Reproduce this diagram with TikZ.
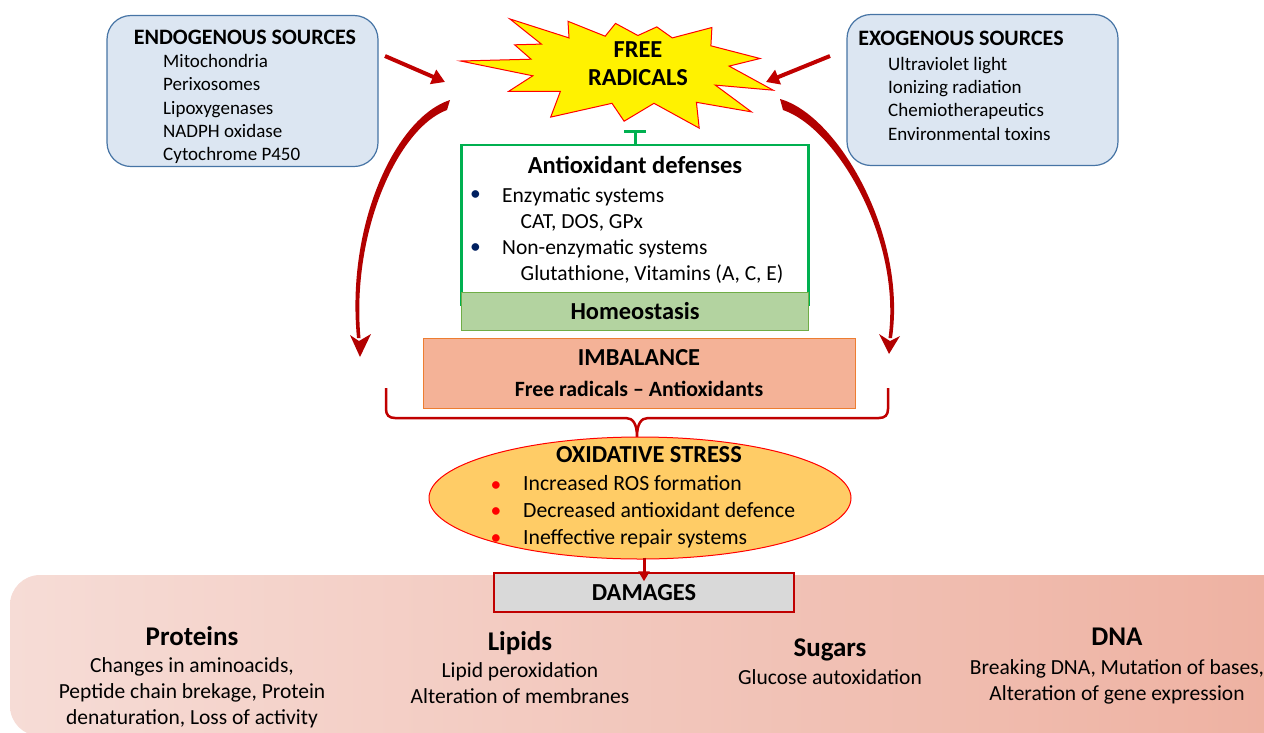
\documentclass[tikz,border=0pt]{standalone}
\usepackage{fontspec}
\setmainfont{Carlito}
\usetikzlibrary{calc,shapes.geometric,arrows.meta}
\definecolor{srcfill}{RGB}{220,230,242}
\definecolor{srcline}{RGB}{70,116,165}
\definecolor{arrred}{RGB}{192,0,0}
\definecolor{curvred}{RGB}{178,0,0}
\definecolor{antigreen}{RGB}{0,176,80}
\definecolor{homeofill}{RGB}{179,211,160}
\definecolor{homeoline}{RGB}{112,173,71}
\definecolor{imbfill}{RGB}{244,178,151}
\definecolor{imbline}{RGB}{237,125,49}
\definecolor{oxfill}{RGB}{255,204,102}
\definecolor{damfill}{RGB}{217,217,217}
\definecolor{panelL}{RGB}{246,220,214}
\definecolor{panelR}{RGB}{238,177,161}
\definecolor{bulletblue}{RGB}{0,32,96}
\tikzset{
  srcbox/.style={draw=srcline, fill=srcfill, line width=1.2pt, rounded corners=24pt, minimum width=271pt, minimum height=151pt},
  title/.style={font=\fontsize{22}{26}\selectfont\bfseries},
  srclist/.style={anchor=north west, align=left, inner sep=0pt, font=\fontsize{19}{23.1}\selectfont},
  bigword/.style={font=\fontsize{24.4}{28}\selectfont\bfseries},
  bodytext/.style={font=\fontsize{21.5}{26}\selectfont},
  redarr/.style={draw=arrred, line width=4pt, -{Triangle[length=13pt,width=15pt]}},
  downarr/.style={draw=arrred, line width=3pt, -{Triangle[length=10pt,width=11pt]}},
  swoosh/.style={fill=curvred},
  brace/.style={draw=arrred, line width=2.5pt},
  dmghead/.style={font=\fontsize{27}{32}\selectfont\bfseries},
  dmgbody/.style={anchor=north, align=center, inner sep=0pt, font=\fontsize{21.5}{26}\selectfont},
}
\begin{document}
\begin{tikzpicture}[x=1pt,y=-1pt]
		%%%%% START %%%%%
		\useasboundingbox (0,0) rectangle (1264,732);
		
		\shade[left color=panelL, right color=panelR, rounded corners=30pt] (10,575) rectangle (1292,736);
		
		\node[srcbox] (endo) at (242.5,91) {};
		\node[title] (endot) at (245,37) {ENDOGENOUS SOURCES};
		\node[srclist] (endol) at (163,54.5) {Mitochondria\\Perixosomes\\Lipoxygenases\\NADPH oxidase\\Cytochrome P450};
		
		\node[srcbox] (exo) at (982.5,90) {};
		\node[title] (exot) at (961,38) {EXOGENOUS SOURCES};
		\node[srclist] (exol) at (888,57.4) {Ultraviolet light\\Ionizing radiation\\Chemiotherapeutics\\Environmental toxins};
		
		\filldraw[fill=yellow, draw=red, line width=1pt] (509.8,18.9) -- (569,37.9) -- (568,21.3) -- (605.2,36.2) -- (615.5,23.4) -- (637.9,35.5) -- (656.8,26.9) -- (672.3,37.9) -- (711.9,27.5) -- (710.9,45.8) -- (760.1,58.5) -- (729.1,66.1) -- (773.2,90.2) -- (715.3,85.1) -- (751.5,111.9) -- (696.4,102.3) -- (699.2,128.1) -- (654,103.3) -- (624.1,121.2) -- (612,103.3) -- (550.7,117.1) -- (560.4,91.3) -- (508.7,91.3) -- (532.8,75.8) -- (460.5,61) -- (531.1,59.2) -- (514.6,44.8) -- (541.4,44.1) -- cycle;
		\node[bigword, align=center] (fr) at (638,63.5) {FREE\\RADICALS};
		
		\coordinate (endoa) at (385,56);
		\coordinate (fra) at (445,82);
		\draw[redarr] (endoa) -- (fra);
		\coordinate (exoa) at (830,56);
		\coordinate (frb) at (766,82);
		\draw[redarr] (exoa) -- (frb);
		
		% curved arrows to the imbalance
		\fill[swoosh] (450,100) .. controls (395,118) and (346,225) .. (357,338) -- (360.5,338) .. controls (351,232) and (398,128) .. (447,110) -- cycle;
		\fill[swoosh] (350,335) -- (360,357) -- (371,334) -- (359,341) -- cycle;
		\fill[swoosh] (780,99) .. controls (838,115) and (907,235) .. (892,338) -- (888.5,338) .. controls (902,238) and (836,128) .. (783,110) -- cycle;
		\fill[swoosh] (879,334) -- (889,354) -- (900,336) -- (890,341) -- cycle;
		
		\node[draw=antigreen, line width=2.5pt, fill=white, minimum width=347pt, minimum height=160pt] (anti) at (635,225) {};
		\coordinate (tbar) at (635,130);
		\draw[draw=antigreen, line width=3pt, -{Bar[width=22pt]}] (anti.north) -- (tbar);
		\node[font=\fontsize{24.5}{28}\selectfont\bfseries] (antit) at (635,165) {Antioxidant defenses};
		\node[bodytext, text=bulletblue] (b1) at (475.5,196) {•};
		\node[bodytext, text=bulletblue] (b2) at (475.5,249) {•};
		\node[bodytext, anchor=north west, align=left, inner sep=0pt] (antil) at (502,187) {Enzymatic systems\\\hspace*{18.5pt}CAT, DOS, GPx\\Non-enzymatic systems\\\hspace*{18.5pt}Glutathione, Vitamins (A, C, E)};
		
		\node[draw=homeoline, fill=homeofill, line width=1pt, minimum width=347pt, minimum height=38pt, bigword] (homeo) at (635,311) {Homeostasis};
		
		\node[draw=imbline, fill=imbfill, line width=1pt, minimum width=432pt, minimum height=70pt] (imb) at (639,373) {};
		\node[bigword] (imbt) at (639,358) {IMBALANCE};
		\node[font=\fontsize{21.8}{26}\selectfont\bfseries] (imbs) at (639,389) {Free radicals – Antioxidants};
		
		\coordinate (brl) at (386,388);
		\coordinate (brr) at (888,388);
		\draw[brace] (brl) -- (386,409) .. controls (386,415) and (389,418) .. (395,418) -- (626,418) .. controls (633,418) and (637,424) .. (637,437) .. controls (637,424) and (641,418) .. (648,418) -- (879,418) .. controls (885,418) and (888,415) .. (888,409) -- (brr);
		
		\node[ellipse, draw=red, fill=oxfill, line width=1pt, minimum width=422pt, minimum height=122pt, inner sep=0pt] (ox) at (640,498) {};
		\node[bigword] (oxt) at (649,455) {OXIDATIVE STRESS};
		\node[bodytext, text=red] (r1) at (496,486.5) {•};
		\node[bodytext, text=red] (r2) at (496,513) {•};
		\node[bodytext, text=red] (r3) at (496,539.7) {•};
		\node[anchor=north west, align=left, inner sep=0pt, font=\fontsize{21.7}{26.7}\selectfont] (oxl) at (523,475.5) {Increased ROS formation\\Decreased antioxidant defence\\Ineffective repair systems};
		
		\node[draw=arrred, fill=damfill, line width=1.5pt, minimum width=300pt, minimum height=39pt, bigword] (dam) at (644,592.5) {DAMAGES};
		\draw[downarr] ($(ox.south -| dam.north)+(0,-2)$) -- ($(dam.north)+(0,9)$);
		
		\node[dmghead] (prot) at (192,636) {Proteins};
		\node[dmgbody] (protl) at (192,657) {Changes in aminoacids,\\Peptide chain brekage, Protein\\denaturation, Loss of activity};
		\node[dmghead] (lip) at (520,643) {Lipids};
		\node[dmgbody] (lipl) at (520,662) {Lipid peroxidation\\Alteration of membranes};
		\node[dmghead] (sug) at (830,650) {Sugars};
		\node[dmgbody] (sugl) at (830,669) {Glucose autoxidation};
		\node[dmghead] (dna) at (1117,637) {DNA};
		\node[dmgbody] (dnal) at (1117,659) {Breaking DNA, Mutation of bases,\\Alteration of gene expression};
		
		%%%%% END %%%%%
	\end{tikzpicture}
\end{document}
